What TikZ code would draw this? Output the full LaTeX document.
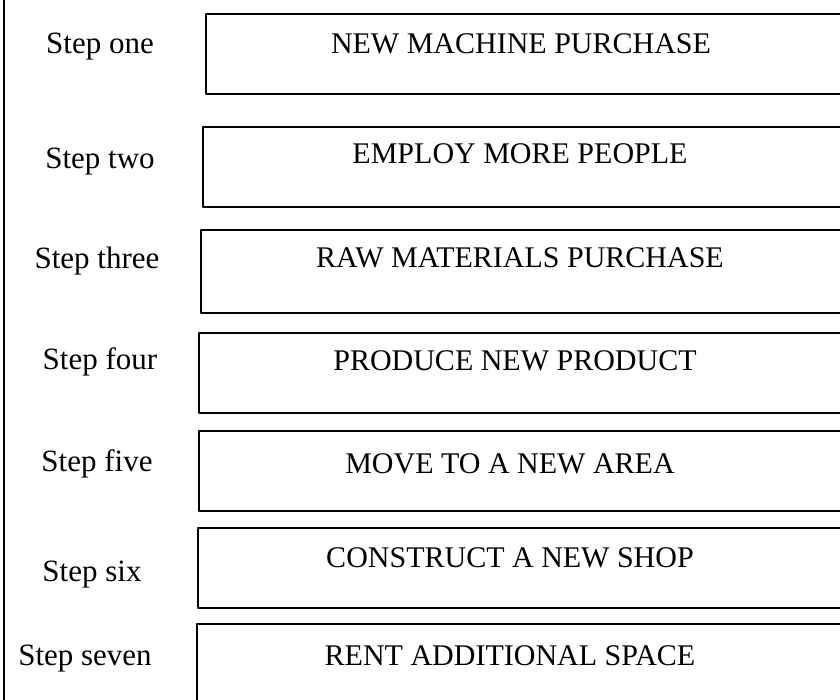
\documentclass[tikz,border=0pt]{standalone}
\usepackage{fontspec}
\setmainfont{Liberation Serif}
\begin{document}
\begin{tikzpicture}[x=1pt,y=-1pt,line join=round,line cap=round,font=\fontsize{30}{35}\selectfont,
		stepbox/.style={draw,line width=2pt,minimum width=720pt,anchor=north west,inner sep=0pt},
		steplabel/.style={anchor=mid,inner sep=0pt,yshift=-8pt}]
	\useasboundingbox (0,0) rectangle (840,700);
	\clip (0,0) rectangle (840,700);
	\draw [line width=2pt](4,-5)--(4,705);
	\foreach \i/\bx/\by/\bh/\lx/\ly/\tx/\ty/\lab/\txt in {
			1/205/13/80/100/43/521/43/Step one/NEW MACHINE PURCHASE,
			2/202/126/80/100/158/520/153/Step two/EMPLOY MORE PEOPLE,
			3/200/229/83/97/258/520/257/Step three/RAW MATERIALS PURCHASE,
			4/198/332/80/100/359/515/360/Step four/PRODUCE NEW PRODUCT,
			5/198/430/80/97/461/510/463/Step five/MOVE TO A NEW AREA,
			6/197/527/80/92/571/510/557/Step six/CONSTRUCT A NEW SHOP,
			7/196/623/100/85/655/510/655/Step seven/RENT ADDITIONAL SPACE}{
		\node[stepbox,minimum height=\bh pt] (box\i) at (\bx,\by) {};
		\node[steplabel,font=\fontsize{31}{36}\selectfont] (step\i) at (\lx,\ly) {\lab};
		\node[steplabel] (task\i) at (\tx,\ty) {\txt};
	}
\end{tikzpicture}
\end{document}
